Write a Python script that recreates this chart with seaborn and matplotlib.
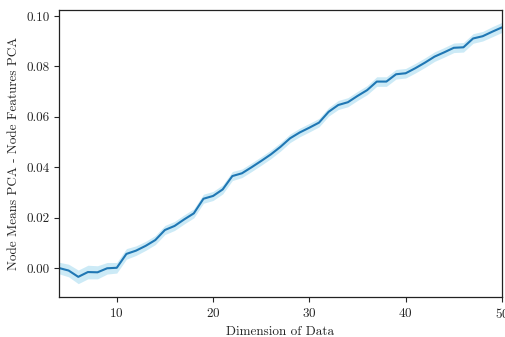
import numpy as np
import pandas as pd
import matplotlib
matplotlib.use('Agg')
import matplotlib.pyplot as plt
import seaborn as sns

# dimension of data on the x axis
dims = list(range(4, 51))

# mean difference
mean_diff = [0.0000, -0.0010, -0.0035, -0.0016, -0.0017, -0.0001, 0.0001,
             0.0056, 0.0069, 0.0088, 0.0111, 0.0151, 0.0167, 0.0193, 0.0217,
             0.0275, 0.0286, 0.0312, 0.0365, 0.0376, 0.0400, 0.0425, 0.0451,
             0.0481, 0.0515, 0.0538, 0.0557, 0.0577, 0.0620, 0.0647, 0.0658,
             0.0683, 0.0706, 0.0740, 0.0740, 0.0769, 0.0773, 0.0793, 0.0815,
             0.0839, 0.0856, 0.0874, 0.0876, 0.0911, 0.0920, 0.0938, 0.0955]

# half width of the shaded band
band = [0.0023, 0.0025, 0.0027, 0.0027, 0.0026, 0.0023, 0.0021,
        0.0021, 0.0019, 0.0018, 0.0018, 0.0018, 0.0018, 0.0018, 0.0018,
        0.0018, 0.0018, 0.0018, 0.0018, 0.0017, 0.0017, 0.0017, 0.0017,
        0.0017, 0.0017, 0.0017, 0.0017, 0.0017, 0.0017, 0.0018, 0.0018,
        0.0018, 0.0018, 0.0019, 0.0019, 0.0019, 0.0019, 0.0019, 0.0019,
        0.0019, 0.0019, 0.0019, 0.0019, 0.0019, 0.0019, 0.0020, 0.0020]

dims_arr = np.array(dims)
m = np.array(mean_diff)
b = np.array(band)
d = pd.DataFrame({'dim': np.concatenate((dims_arr, dims_arr)),
                  'diff': np.concatenate((m - b, m + b))})

sns.set_style('ticks')
plt.rcParams['font.family'] = 'serif'
plt.rcParams['font.serif'] = ['cmr10']
plt.rcParams['mathtext.fontset'] = 'cm'
plt.rcParams['axes.formatter.use_mathtext'] = True
plt.rcParams['axes.unicode_minus'] = False

fig = plt.figure(figsize=(5.06, 3.37), dpi=100)
ax = fig.add_axes([0.1166, 0.1187, 0.8754, 0.8516])
sns.lineplot(data=d, x='dim', y='diff', errorbar=('pi', 100),
             color='#1f77b4', linewidth=1.5, ax=ax,
             err_kws={'linewidth': 0})
# band is a lighter sky blue in the reference
band_poly = ax.collections[0]
band_poly.set_facecolor('#87ceeb')
band_poly.set_alpha(0.42)

ax.set_xlim(4, 50)
ax.set_ylim(-0.0115, 0.1024)
ax.set_xticks([10, 20, 30, 40, 50])
ax.set_yticks([0.0, 0.02, 0.04, 0.06, 0.08, 0.10])
ax.set_yticklabels(['0.00', '0.02', '0.04', '0.06', '0.08', '0.10'])
ax.set_xlabel('Dimension of Data', fontsize=9.5)
ax.set_ylabel('Node Means PCA - Node Features PCA', fontsize=9.5)
ax.tick_params(labelsize=9.5, length=3.5, width=0.8)
for s in ax.spines.values():
    s.set_linewidth(0.9)
    s.set_color('#222222')

fig.savefig('out.png', dpi=100)
